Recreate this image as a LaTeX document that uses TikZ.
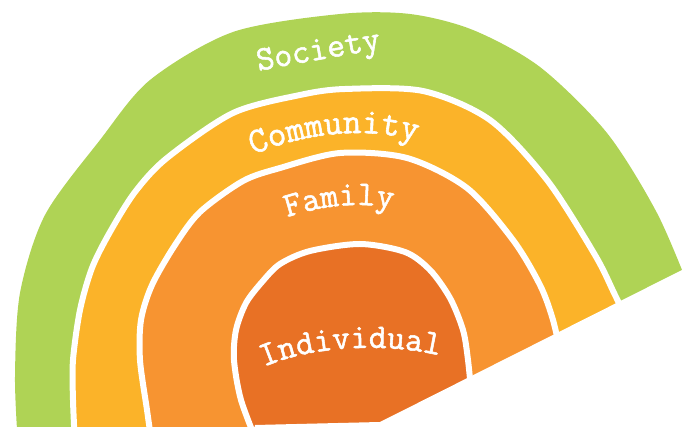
\documentclass[tikz,border=0pt]{standalone}
\usepackage{fontspec}
\newfontfamily\tw{Latin Modern Mono}[FakeBold=1.5]
\usetikzlibrary{decorations.text}
\definecolor{cSoc}{HTML}{AFD355}
\definecolor{cCom}{HTML}{FBB329}
\definecolor{cFam}{HTML}{F79431}
\definecolor{cInd}{HTML}{E87125}
\begin{document}
\begin{tikzpicture}[x=0.75pt,y=-0.75pt,
  ring/.style={draw=white, line width=4.5pt, line join=round},
  lbl/.style={decorate, decoration={text along path, text align=center, text color=white}}]
\useasboundingbox (0,0) rectangle (694,427);
\clip (0,0) rectangle (694,427);
% Society
\fill[cSoc] plot[smooth] coordinates {(18,445) (15,377) (20,293) (45,215) (100,140) (150,80) (233,32) (340,14) (410,14) (473,30) (540,67) (607,133) (657,213) (690,290)} -- (720,445) -- cycle;
% Community
\filldraw[ring, fill=cCom] plot[smooth] coordinates {(75,445) (73,400) (73,360) (80,310) (92,268) (110,232) (135,192) (167,158) (233,113) (300,95) (345,89) (423,91) (490,120) (547,180) (595,255) (615,295) (632,330)} -- (640,445) -- cycle;
% Family
\filldraw[ring, fill=cFam] plot[smooth] coordinates {(152,445) (147,410) (140,360) (141,320) (152,285) (175,245) (200,212) (243,181) (280,168) (340,153) (407,158) (467,188) (513,240) (540,285) (553,320) (562,360)} -- (565,445) -- cycle;
% Individual
\filldraw[ring, fill=cInd] plot[smooth] coordinates {(258,445) (241,400) (234,360) (236,330) (246,303) (262,282) (280,264) (310,251) (360,244) (405,252) (430,270) (450,298) (463,330) (468,360) (472,400)} -- (475,445) -- cycle;
% cut
\fill[white] (255,425) -- (380,422) -- (686,268) -- (720,250) -- (720,445) -- (250,445) -- cycle;
% labels
\path[lbl, decoration={text={|\tw\fontsize{26}{26}\selectfont|Society}}] (252,72) .. controls (295,64) and (345,55) .. (388,48);
\path[lbl, decoration={text={|\tw\fontsize{27}{27}\selectfont|Community}}] (248,157) .. controls (290,138) and (360,122) .. (422,143);
\path[lbl, decoration={text={|\tw\fontsize{26}{26}\selectfont|Family}}] (282,219) .. controls (320,206) and (360,200) .. (398,210);
\path[lbl, decoration={text={|\tw\fontsize{26}{26}\selectfont|Individual}}] (258,370) .. controls (300,348) and (380,340) .. (446,357);
\end{tikzpicture}
\end{document}
